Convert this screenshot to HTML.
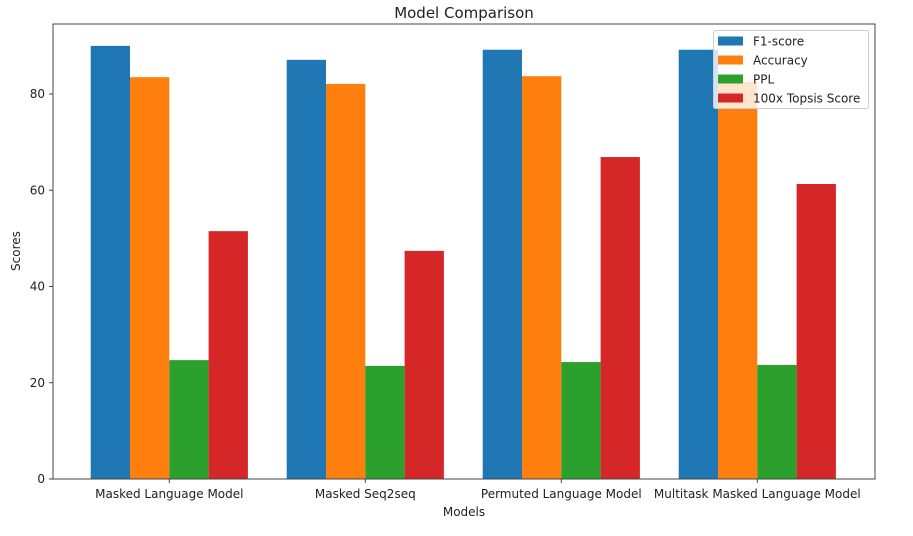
<!DOCTYPE html>
<html><head><meta charset="utf-8"><style>
body{margin:0;background:#fff;}
svg text{font-family:"DejaVu Sans","Liberation Sans",sans-serif;fill:#222;}
</style></head><body>
<svg id="chart" width="913" height="531" xmlns="http://www.w3.org/2000/svg">
<text x="464" y="18" font-size="15" text-anchor="middle">Model Comparison</text>
<g id="bars"></g>
<g id="axes"></g>
</svg>
<script>
const categories=["Masked Language Model","Masked Seq2seq","Permuted Language Model","Multitask Masked Language Model"];
const seriesNames=["F1-score","Accuracy","PPL","100x Topsis Score"];
const f1=[90.0,87.1,89.2,89.2];
const accuracy=[83.5,82.1,83.7,82.5];
const ppl=[24.7,23.5,24.3,23.7];
const topsis=[51.5,47.4,66.9,61.3];
const yTicks=[0,20,40,60,80];
const colors=["#1f77b4","#ff7f0e","#2ca02c","#d62728"];
const series=[f1,accuracy,ppl,topsis];
const NS="http://www.w3.org/2000/svg";
const L=53,R=875,T=24,B=479;
const y=v=>B-v*4.8125;
const xc=i=>169.3+196*i;
const bw=39.3;
function mk(tag,attrs,parent){const e=document.createElementNS(NS,tag);for(const k in attrs)e.setAttribute(k,attrs[k]);parent.appendChild(e);return e;}
const bars=document.getElementById('bars'),axes=document.getElementById('axes');
series.forEach((s,si)=>{s.forEach((v,i)=>{
 const r=mk('rect',{x:xc(i)+(si-2)*bw,y:y(v),width:bw,height:B-y(v),fill:colors[si]},bars);
 
 
});});
const frame=mk('rect',{x:L,y:T,width:R-L,height:B-T,fill:'none',stroke:'#444','stroke-width':1},axes);


yTicks.forEach(t=>{
 mk('line',{x1:L-4,x2:L,y1:y(t),y2:y(t),stroke:'#444'},axes);
 const tx=mk('text',{x:L-8,y:y(t)+4,'font-size':12,'text-anchor':'end'},axes);tx.textContent=t;
 
 
});
categories.forEach((c,i)=>{
 mk('line',{x1:xc(i),x2:xc(i),y1:B,y2:B+4,stroke:'#444'},axes);
 const tx=mk('text',{x:xc(i),y:B+19,'font-size':12,'text-anchor':'middle'},axes);tx.textContent=c;
 
 
});
const xl=mk('text',{x:464,y:516,'font-size':12,'text-anchor':'middle'},axes);xl.textContent='Models';


const yl=mk('text',{x:20,y:251,'font-size':12,'text-anchor':'middle',transform:'rotate(-90 20 251)'},axes);yl.textContent='Scores';


const lg=mk('g',{},axes);


mk('rect',{x:713.5,y:30.5,width:155,height:78,rx:2,fill:'#fff','fill-opacity':0.8,stroke:'#ccc'},lg);
seriesNames.forEach((n,si)=>{
 const yy=41+si*19;
 mk('rect',{x:718,y:yy-4.5,width:25,height:9,fill:colors[si]},lg);
 const tx=mk('text',{x:753,y:yy+4.5,'font-size':12},lg);tx.textContent=n;
 
 
});
</script>
</body></html>
